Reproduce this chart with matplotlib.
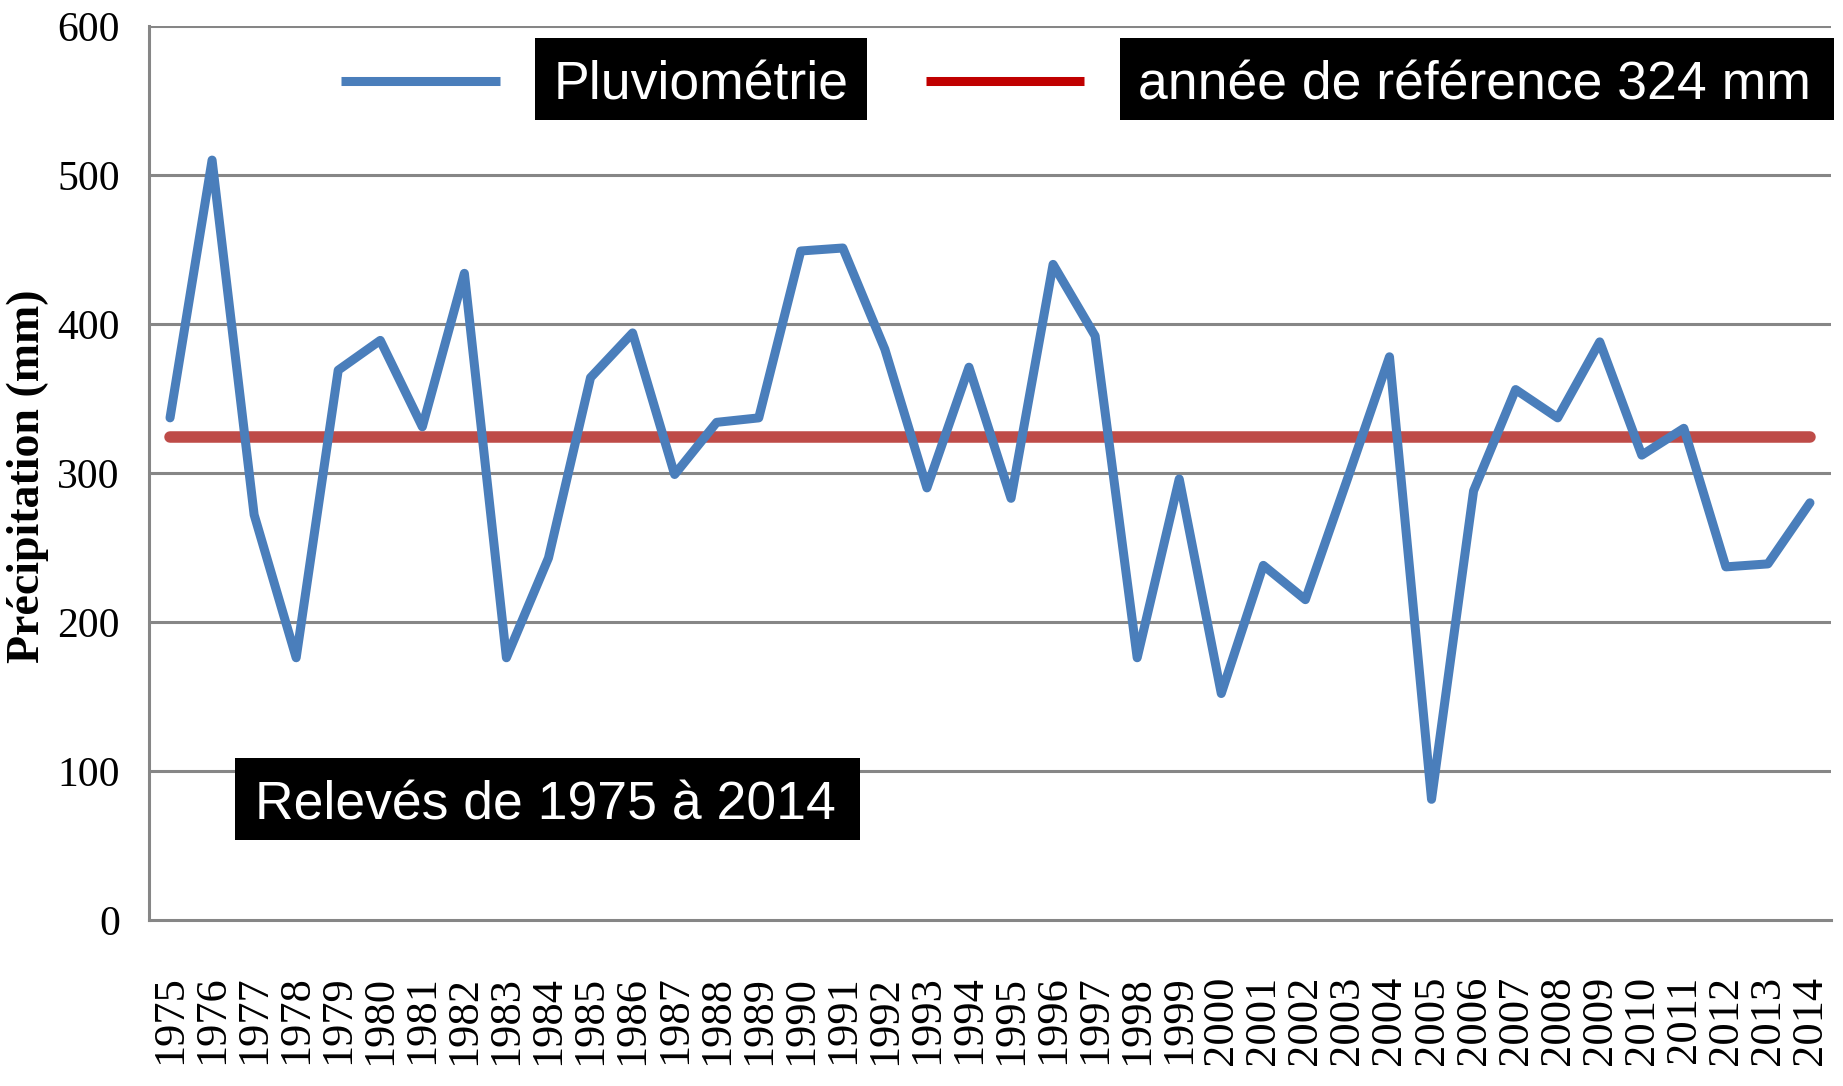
import matplotlib
matplotlib.use("Agg")
import matplotlib.pyplot as plt
from matplotlib.lines import Line2D
from matplotlib.patches import Rectangle

# ---- data ----
years = [str(y) for y in range(1975, 2015)]
precip = [337, 510, 272, 176, 369, 389, 331, 434, 176, 243,
          364, 394, 299, 334, 337, 449, 451, 383, 290, 371,
          283, 440, 392, 176, 296, 152, 238, 215, 296, 378,
          81, 288, 356, 337, 388, 312, 330, 237, 239, 280]
ref_value = 324
ref_series = [ref_value] * len(years)
yticks = [0, 100, 200, 300, 400, 500, 600]

W, H = 1843, 1086
fig = plt.figure(figsize=(W / 100, H / 100), dpi=100)

def fx(px):
    return px / W

def fy(py):
    return 1 - py / H

ax_left, ax_right, ax_top, ax_bottom = 149, 1831, 26, 920
ax = fig.add_axes([fx(ax_left), fy(ax_bottom), fx(ax_right - ax_left), (ax_bottom - ax_top) / H])

grid_col = "#868686"
blue = "#4A7EBB"
red = "#BE4B48"

x = list(range(len(years)))
ax.plot(x, ref_series, color=red, lw=8.3, solid_capstyle="round", zorder=3)
ax.plot(x, precip, color=blue, lw=6.5, solid_joinstyle="round",
        solid_capstyle="round", zorder=4)

ax.set_xlim(-0.5, len(years) - 0.5)
ax.set_ylim(0, 600)
ax.set_yticks(yticks)
ax.set_yticklabels([str(v) for v in yticks], family="Liberation Serif", fontsize=30)
ax.set_xticks(x)
ax.set_xticklabels(years, rotation=90, family="Liberation Serif", fontsize=32)
ax.tick_params(axis="both", length=0)
ax.tick_params(axis="y", pad=21)
ax.tick_params(axis="x", pad=40)

for v in yticks[1:]:
    ax.axhline(v, color=grid_col, lw=2.2, zorder=1)
for s in ["top", "right"]:
    ax.spines[s].set_visible(False)
for s in ["left", "bottom"]:
    ax.spines[s].set_color(grid_col)
    ax.spines[s].set_linewidth(2.2)

# y label
fig.text(fx(28), fy(476), "Précipitation (mm)", rotation=90, ha="center", va="center",
         family="Liberation Serif", fontweight="bold", fontsize=33)

# legend / labels
def black_box(x0, y0, x1, y1):
    fig.patches.append(Rectangle((fx(x0), fy(y1)), fx(x1 - x0), (y1 - y0) / H,
                                 transform=fig.transFigure, facecolor="black",
                                 edgecolor="none", zorder=5))

fig.lines.append(Line2D([fx(341), fx(500)], [fy(81), fy(81)], transform=fig.transFigure,
                        color=blue, lw=6.5, solid_capstyle="butt"))
black_box(535, 38, 867, 120)
fig.text(fx(701), fy(99), "Pluviométrie", color="white", ha="center", va="baseline",
         family="Liberation Sans", fontsize=38.5, zorder=6)

fig.lines.append(Line2D([fx(926), fx(1084)], [fy(81), fy(81)], transform=fig.transFigure,
                        color="#C00000", lw=6.5, solid_capstyle="butt"))
black_box(1120, 38, 1834, 120)
fig.text(fx(1474), fy(99), "année de référence 324 mm", color="white", ha="center",
         va="baseline", family="Liberation Sans", fontsize=38.5, zorder=6)

black_box(235, 758, 860, 840)
fig.text(fx(545), fy(820), "Relevés de 1975 à 2014", color="white", ha="center",
         va="baseline", family="Liberation Sans", fontsize=38.5, zorder=6)

fig.savefig("out.png", dpi=100, facecolor="white")
